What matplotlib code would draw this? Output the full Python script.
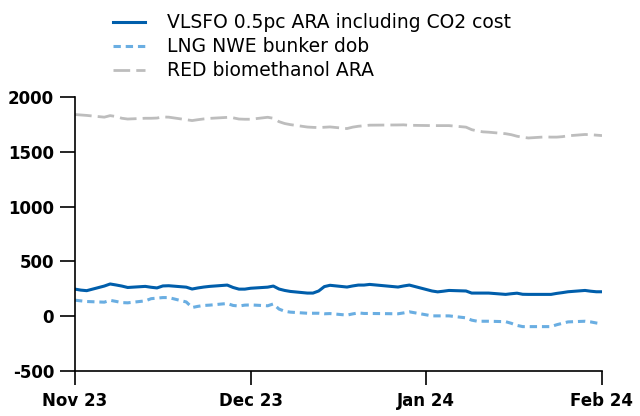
import numpy as np
import pandas as pd
import matplotlib.pyplot as plt

# Business days Nov 1 2023 - Feb 1 2024, without the Christmas/New Year holidays
dates = pd.bdate_range("2023-11-01", "2024-02-01")
dates = dates[~dates.isin(pd.to_datetime(["2023-12-25", "2023-12-26", "2024-01-01"]))]

vlsfo = [247, 238, 233, 275, 294, 285, 275, 262, 272, 264, 258, 276, 278, 265, 248, 258, 266, 272, 284, 262, 247, 247,
         255, 265, 275, 248, 235, 226, 211, 211, 230, 270, 282, 266, 276, 284, 284, 290, 266, 276, 284,
         230, 222, 228, 235, 230, 211, 211, 211, 211, 199, 205, 210, 200, 199, 199, 199, 208, 215, 223, 235, 228, 223,
         223]
lng = [146, 140, 134, 128, 145, 135, 124, 122, 140, 160, 165, 170, 170, 130, 79, 90, 98, 101, 116, 98, 93, 101,
       103, 95, 112, 65, 45, 37, 27, 27, 27, 22, 24, 10, 21, 30, 25, 25, 22, 30, 40,
       3, 3, 3, 3, -15, -36, -46, -46, -46, -50, -65, -84, -95, -95, -95, -95, -78, -65, -52, -46, -52, -62,
       -70]
methanol = [1840, 1836, 1832, 1816, 1830, 1822, 1806, 1799, 1806, 1806, 1808, 1818, 1816, 1793, 1785, 1793, 1800,
            1805, 1814, 1810, 1799, 1797,
            1797, 1815, 1806, 1775, 1758, 1748, 1726, 1723, 1721, 1724, 1727, 1712, 1725, 1733, 1738, 1743,
            1745, 1746, 1742,
            1739, 1739, 1739, 1739, 1725, 1702, 1690, 1682, 1679, 1665, 1656, 1642, 1633, 1626, 1636, 1634,
            1634, 1638, 1646, 1658, 1656, 1652,
            1648]

labels = ["VLSFO 0.5pc ARA including CO2 cost", "LNG NWE bunker dob", "RED biomethanol ARA"]
month_labels = ["Nov 23", "Dec 23", "Jan 24", "Feb 24"]
yticks = [-500, 0, 500, 1000, 1500, 2000]

# the chart spaces months evenly, so place each day as a fraction of its month
months = (dates.year - 2023) * 12 + dates.month - 11
xpos = months + (dates.day - 1) / dates.days_in_month

plt.rcParams['font.family'] = ['DejaVu Sans']
plt.rcParams['axes.unicode_minus'] = False

fig = plt.figure(figsize=(6.4, 4.16), dpi=100)
ax = fig.add_axes([75 / 640, 1 - 371 / 416, 527 / 640, 274 / 416])

ax.plot(xpos, vlsfo, color="#005eab", lw=2.2, label=labels[0])
ax.plot(xpos, lng, color="#6aaee2", lw=2.2, dashes=(2.4, 1.6), label=labels[1])
ax.plot(xpos, methanol, color="#bdbdbd", lw=2.0, dashes=(6, 2.2), label=labels[2])

ax.set_ylim(-500, 2000)
ax.set_xlim(0, 3)
ax.set_yticks(yticks)
ax.set_xticks(range(len(month_labels)))
ax.set_xticklabels(month_labels)

for s in ["top", "right"]:
    ax.spines[s].set_visible(False)
for s in ["left", "bottom"]:
    ax.spines[s].set_linewidth(1.2)
ax.tick_params(axis="y", length=11, width=1.2, labelsize=12, pad=4)
ax.tick_params(axis="x", length=10, width=1.2, labelsize=12, pad=5)
for t in ax.get_xticklabels() + ax.get_yticklabels():
    t.set_fontweight("bold")

fig.legend(loc="upper left", bbox_to_anchor=(100 / 640, 1.0), frameon=False, fontsize=13.5,
           handlelength=1.7, handletextpad=1.15, labelspacing=0.27, borderaxespad=0.3)

fig.savefig("out.png", dpi=100)
